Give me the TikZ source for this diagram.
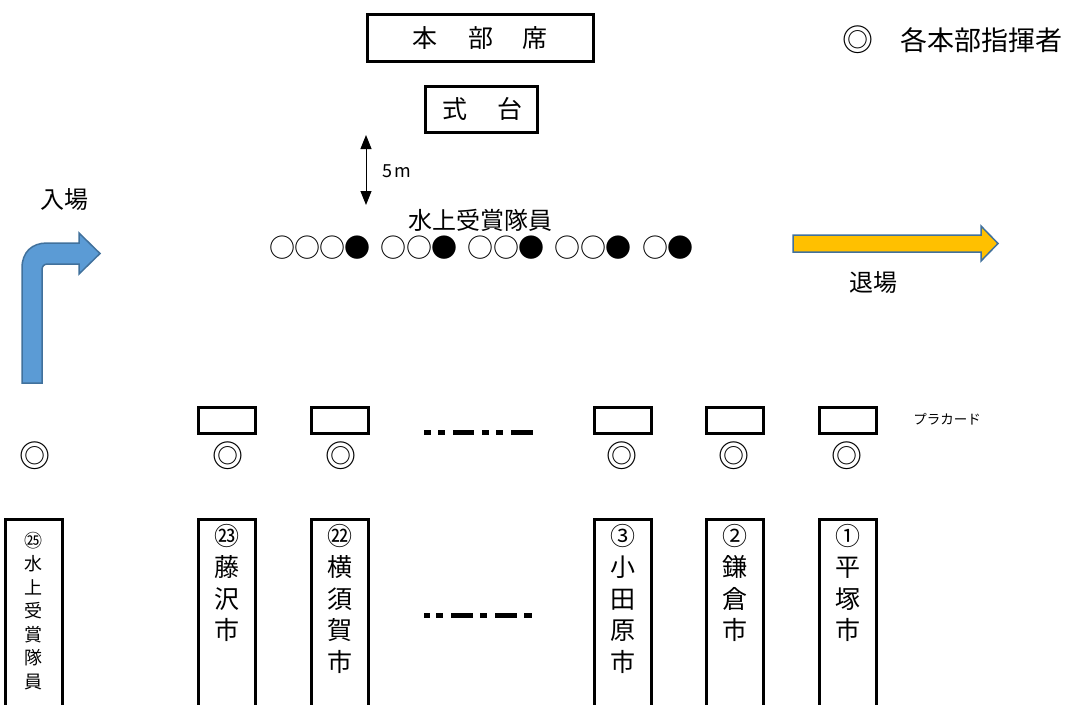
\documentclass[tikz,border=0pt]{standalone}
\usepackage{fontspec}
\newfontfamily\jp{Noto Sans CJK JP}
\usetikzlibrary{arrows.meta}
\definecolor{bluefill}{HTML}{5B9BD5}
\definecolor{blueline}{HTML}{41719C}
\definecolor{gold}{HTML}{FFC000}
\newcommand{\cw}{\makebox[25pt]{\fontsize{26}{26}\selectfont ○}}
\newcommand{\cb}{\makebox[25pt]{\fontsize{26}{26}\selectfont ●}}
\newcommand{\gp}{\hspace{12pt}}
\tikzset{
  every node/.style={font=\jp, inner sep=0pt},
  thickbox/.style={draw, line width=3pt},
  banner/.style={line width=3pt},
  dashbar/.style={fill=black},
  vtext/.style={align=center, anchor=north, font=\jp\fontsize{25}{31.5}\selectfont},
  vsmall/.style={align=center, anchor=north, font=\jp\fontsize{18}{23.5}\selectfont},
  mark2/.style={font=\jp\fontsize{31}{31}\selectfont},
}
\begin{document}
\begin{tikzpicture}[x=1pt,y=-1pt]
\useasboundingbox (0,0) rectangle (1070,704);
% top boxes
\draw[thickbox] (367,14) rectangle (593,61);
\node (hq) at (480,38) {\fontsize{25}{25}\selectfont 本\hspace{31pt}部\hspace{29pt}席};
\draw[thickbox] (425,86) rectangle (537,132);
\node (stage) at (482,109) {\fontsize{25}{25}\selectfont 式\hspace{30pt}台};
% legend
\node[mark2] (lgm) at (858,40) {◎};
\node (lgt) at (981,40) {\fontsize{27}{27}\selectfont 各本部指揮者};
% 5m arrow
\coordinate (d1) at (366,135);
\coordinate (d2) at (366,205);
\draw[line width=1pt, {Triangle[length=14pt,width=11pt]}-{Triangle[length=14pt,width=11pt]}] (d1) -- (d2);
\node (fivem) at (397,171) {\fontsize{18}{18}\selectfont 5\hspace{2pt}m};
% award team
\node (team) at (480,220) {\fontsize{24}{24}\selectfont 水上受賞隊員};
\node (circ) at (481,248) {\cw\cw\cw\cb\gp\cw\cw\cb\gp\cw\cw\cb\gp\cw\cw\cb\gp\cw\cb};
% entry arrow
\draw[fill=bluefill, draw=blueline, line width=1.5pt]
  (22,383) -- (22,268) .. controls (22,252) and (32,243) .. (47,243)
  -- (79,243) -- (79,233) -- (100,253.5) -- (79,274) -- (79,264)
  -- (48,264) .. controls (44,264) and (42,266) .. (42,270) -- (42,383) -- cycle;
\node (in) at (64,200) {\fontsize{24}{24}\selectfont 入場};
% exit arrow
\draw[fill=gold, draw=blueline, line width=1.5pt]
  (793,235) -- (981,235) -- (981,226) -- (998,243.5) -- (981,261) -- (981,252) -- (793,252) -- cycle;
\node (out) at (873,283) {\fontsize{24}{24}\selectfont 退場};
% placards
\foreach \x in {198,311,594,706,819}{
  \draw[thickbox] (\x,407) rectangle (\x+57,433);
}
\node (plac) at (947,419) {\fontsize{13.5}{13.5}\selectfont プラカード};
% upper dash pattern
\fill[dashbar] (424,430) rectangle (431,435);
\fill[dashbar] (438,430) rectangle (445,435);
\fill[dashbar] (453,430) rectangle (474,435);
\fill[dashbar] (482,430) rectangle (489,435);
\fill[dashbar] (496,430) rectangle (503,435);
\fill[dashbar] (511,430) rectangle (533,435);
% lower dash pattern
\fill[dashbar] (424,613) rectangle (430,617.5);
\fill[dashbar] (436,613) rectangle (443,617.5);
\fill[dashbar] (451,613) rectangle (473,617.5);
\fill[dashbar] (480,613) rectangle (487,617.5);
\fill[dashbar] (495,613) rectangle (517,617.5);
\fill[dashbar] (524,613) rectangle (532,617.5);
% commander marks
\node[mark2] (m25) at (35,456) {◎};
\node[mark2] (m23) at (228,456) {◎};
\node[mark2] (m22) at (341,456) {◎};
\node[mark2] (m3) at (622,456) {◎};
\node[mark2] (m2) at (734,456) {◎};
\node[mark2] (m1) at (847,456) {◎};
% banners
\foreach \x in {5,198,311,594,706,819}{
  \draw[banner] (\x,708) -- (\x,519) -- (\x+57,519) -- (\x+57,708);
}
\node[vsmall] (b25) at (33.5,532) {㉕\\水\\上\\受\\賞\\隊\\員};
\node[vtext] (b23) at (226.5,524) {㉓\\藤\\沢\\市};
\node[vtext] (b22) at (339.5,524) {㉒\\横\\須\\賀\\市};
\node[vtext] (b3) at (622.5,524) {③\\小\\田\\原\\市};
\node[vtext] (b2) at (734.5,524) {②\\鎌\\倉\\市};
\node[vtext] (b1) at (847.5,524) {①\\平\\塚\\市};
\end{tikzpicture}
\end{document}
